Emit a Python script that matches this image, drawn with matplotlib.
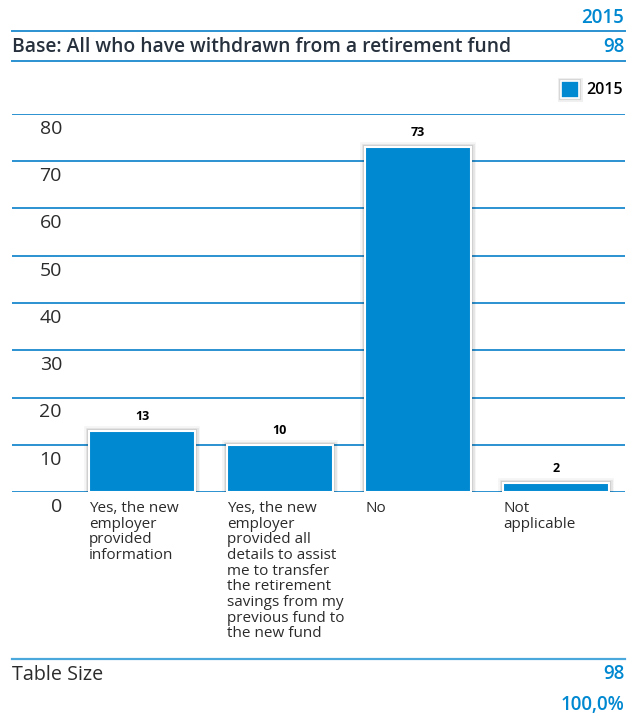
import matplotlib
matplotlib.use("Agg")
import matplotlib.pyplot as plt
import matplotlib.patheffects as pe
from matplotlib.patches import Rectangle

# Data
categories = [
    "Yes, the new\nemployer\nprovided\ninformation",
    "Yes, the new\nemployer\nprovided all\ndetails to assist\nme to transfer\nthe retirement\nsavings from my\nprevious fund to\nthe new fund",
    "No",
    "Not\napplicable",
]
values_2015 = [13, 10, 73, 2]
y_ticks = [0, 10, 20, 30, 40, 50, 60, 70, 80]
series_name = "2015"
base_label = "Base: All who have withdrawn from a retirement fund"
base_n = "98"
table_size = "98"
table_pct = "100,0%"

W, H = 638, 715
BLUE = "#0088d1"
LINE = "#2a92d0"
DARK = "#27313d"
TXT = "#2b2b2b"
FONT = ["Open Sans", "DejaVu Sans"]

plt.rcParams["font.family"] = FONT

fig = plt.figure(figsize=(W / 100, H / 100), dpi=100)


def fx(px):
    return px / W


def fy(py):
    return 1 - py / H


# Header block
fig.text(fx(624), fy(18), series_name, color=BLUE, fontsize=13.5, fontweight="semibold",
         ha="right", va="center")
fig.add_artist(plt.Line2D([fx(12), fx(625)], [fy(31), fy(31)], color=LINE, lw=1.4))
fig.text(fx(12), fy(47), base_label, color=DARK, fontsize=13.9, fontweight="semibold",
         ha="left", va="center")
fig.text(fx(624), fy(47), base_n, color=BLUE, fontsize=13.5, fontweight="semibold",
         ha="right", va="center")
fig.add_artist(plt.Line2D([fx(12), fx(625)], [fy(61), fy(61)], color=LINE, lw=1.4))

# Legend
leg_box = Rectangle((fx(561), fy(98)), fx(18), 17 / H, transform=fig.transFigure,
                    facecolor=BLUE, edgecolor="white", lw=1.2,
                    path_effects=[pe.Stroke(linewidth=5, foreground="black", alpha=0.06),
                                  pe.Stroke(linewidth=3, foreground="black", alpha=0.10),
                                  pe.Normal()])
fig.add_artist(leg_box)
fig.text(fx(586), fy(90), series_name, color="black", fontsize=11.5, fontweight="semibold",
         ha="left", va="center")

# Chart area
ax = fig.add_axes([fx(12), fy(492), fx(625) - fx(12), (492 - 114) / H])
x = list(range(len(categories)))
ax.set_xlim(-0.942, 3.5)
ax.set_ylim(0, 80)
for s in ax.spines.values():
    s.set_visible(False)
ax.set_xticks([])
ax.set_yticks([])

for t in y_ticks:
    ax.axhline(t, color=LINE, lw=1.4, zorder=1)
    ax.annotate(str(t), xy=(0, t), xycoords=("axes fraction", "data"),
                xytext=(50, -15), textcoords="offset pixels",
                ha="right", va="center", fontsize=14, color=TXT, fontweight="normal")

shadow = [pe.Stroke(linewidth=7, foreground="black", alpha=0.04),
          pe.Stroke(linewidth=5, foreground="black", alpha=0.06),
          pe.Stroke(linewidth=3, foreground="black", alpha=0.10),
          pe.Normal()]
bw = 0.768
bars = ax.bar(x, values_2015, width=bw, color=BLUE, edgecolor="white", linewidth=1.5,
              zorder=3)
for b in bars:
    b.set_path_effects(shadow)

for xi, v in zip(x, values_2015):
    ax.annotate(str(v), xy=(xi, v), xytext=(0, 8), textcoords="offset pixels",
                ha="center", va="bottom", fontsize=9, fontweight="bold", color="black")

for xi, lab in zip(x, categories):
    ax.annotate(lab, xy=(xi - bw / 2, 0), xytext=(0, -9), textcoords="offset pixels",
                ha="left", va="top", fontsize=11, color=TXT, fontweight="normal",
                linespacing=1.06, annotation_clip=False)

# Footer
fig.add_artist(plt.Line2D([fx(12), fx(625)], [fy(659), fy(659)], color="#4aa8dc", lw=1.6))
fig.text(fx(12), fy(675), "Table Size", color=TXT, fontsize=14.2, fontweight="normal",
         ha="left", va="center")
fig.text(fx(624), fy(674), table_size, color=BLUE, fontsize=13.5, fontweight="semibold",
         ha="right", va="center")
fig.text(fx(624), fy(705), table_pct, color=BLUE, fontsize=13.5, fontweight="semibold",
         ha="right", va="center")

fig.savefig("out.png", dpi=100, facecolor="white")
